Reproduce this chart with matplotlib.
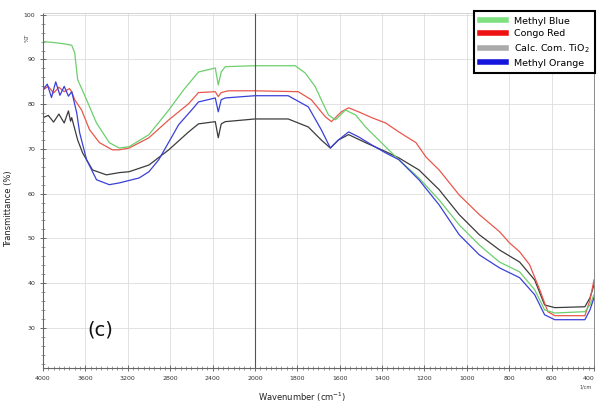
import numpy as np
import matplotlib
matplotlib.use("Agg")
import matplotlib.pyplot as plt
import matplotlib.ticker as ticker
from matplotlib.lines import Line2D

# FTIR spectra (wavenumber cm-1, %T)
methyl_blue_wn = [4000, 3900, 3800, 3729, 3701, 3673, 3589, 3495, 3374, 3280, 3187, 3000,
                  2813, 2673, 2533, 2374, 2346, 2318, 2280, 2000, 1810, 1763, 1715, 1687,
                  1653, 1620, 1573, 1525, 1478, 1416, 1369, 1321, 1226, 1131, 1036, 941,
                  846, 751, 680, 633, 585, 443, 419, 400]
methyl_blue_t = [94.0, 93.8, 93.5, 93.2, 91.5, 85.5, 81.0, 75.8, 71.4, 70.2, 70.5, 73.2,
                 78.7, 83.2, 87.2, 88.1, 84.3, 87.2, 88.4, 88.6, 88.6, 87.0, 83.9, 81.0,
                 77.6, 76.5, 78.7, 77.6, 74.9, 72.0, 69.8, 67.6, 63.5, 58.6, 53.0, 48.5,
                 44.7, 42.5, 38.5, 34.0, 33.3, 33.6, 35.1, 37.4]

congo_red_wn = [4000, 3950, 3900, 3850, 3800, 3750, 3729, 3701, 3636, 3561, 3467, 3346,
                3280, 3187, 3000, 2813, 2626, 2533, 2374, 2346, 2318, 2252, 2000, 1796,
                1734, 1668, 1639, 1592, 1558, 1511, 1449, 1383, 1321, 1240, 1193, 1131,
                1036, 941, 846, 799, 751, 704, 656, 618, 585, 443, 419, 400]
congo_red_t = [83.2, 84.0, 82.5, 83.8, 82.8, 83.5, 82.8, 81.0, 78.7, 74.3, 71.4, 69.8,
               69.8, 70.2, 72.5, 76.5, 80.1, 82.6, 82.8, 81.7, 82.6, 83.0, 83.0, 82.8,
               81.0, 77.2, 76.1, 78.3, 79.2, 78.3, 77.0, 75.8, 73.8, 71.4, 68.2, 65.3,
               59.7, 55.3, 51.5, 49.0, 47.0, 44.1, 38.5, 33.6, 32.7, 32.7, 36.2, 40.7]

tio2_wn = [4000, 3950, 3900, 3850, 3800, 3760, 3740, 3729, 3673, 3626, 3533, 3402, 3280,
           3187, 3000, 2813, 2626, 2533, 2374, 2346, 2318, 2280, 2000, 1843, 1748, 1687,
           1644, 1606, 1558, 1478, 1383, 1321, 1226, 1131, 1036, 941, 846, 751, 680, 633,
           585, 443, 419, 400]
tio2_t = [77.0, 77.5, 76.0, 77.8, 75.8, 78.5, 76.2, 77.0, 72.0, 69.1, 65.3, 64.2, 64.7,
          64.9, 66.4, 69.8, 73.8, 75.6, 76.1, 72.5, 75.6, 76.1, 76.7, 76.7, 74.9, 72.0,
          70.2, 72.0, 73.2, 71.4, 69.4, 68.0, 65.3, 60.9, 55.3, 50.8, 47.4, 44.7, 40.7,
          35.1, 34.5, 34.7, 36.7, 39.6]

methyl_orange_wn = [4000, 3960, 3920, 3880, 3840, 3800, 3760, 3729, 3682, 3654, 3589, 3495,
                    3374, 3280, 3093, 3000, 2907, 2720, 2579, 2533, 2374, 2346, 2318, 2280,
                    2000, 1843, 1748, 1687, 1644, 1606, 1558, 1511, 1449, 1383, 1321, 1226,
                    1131, 1036, 941, 846, 751, 680, 633, 585, 443, 419, 400]
methyl_orange_t = [83.2, 84.5, 81.5, 85.0, 82.0, 84.0, 81.8, 82.8, 78.1, 73.6, 67.6, 63.1,
                   62.0, 62.4, 63.5, 64.9, 67.6, 75.4, 79.2, 80.5, 81.4, 78.3, 81.0, 81.4,
                   81.9, 81.9, 79.4, 74.3, 70.2, 72.0, 73.8, 72.7, 70.9, 69.1, 67.6, 63.1,
                   57.5, 50.8, 46.3, 43.4, 41.2, 37.4, 32.9, 31.8, 31.8, 34.0, 36.7]

x_major = [4000, 3600, 3200, 2800, 2400, 2000, 1800, 1600, 1400, 1200, 1000, 800, 600, 400]
y_major = [30, 40, 50, 60, 70, 80, 90, 100]


# half scale above 2000 cm-1 (scale change like the instrument software)
def forward(w):
    w = np.asarray(w, dtype=float)
    return np.where(w > 2000, 2000 + (w - 2000) / 2.0, w)


def inverse(u):
    u = np.asarray(u, dtype=float)
    return np.where(u > 2000, 2000 + 2.0 * (u - 2000), u)


fig = plt.figure(figsize=(5.97, 4.03), dpi=100)
ax = fig.add_axes((43 / 597, 1 - 368 / 403, (594 - 43) / 597, (368 - 13) / 403))
ax.set_xscale("function", functions=(forward, inverse))

ax.plot(tio2_wn, tio2_t, color="#3c3c3c", lw=0.9)
ax.plot(congo_red_wn, congo_red_t, color="#e8574c", lw=0.9)
ax.plot(methyl_blue_wn, methyl_blue_t, color="#6ccf6c", lw=0.9)
ax.plot(methyl_orange_wn, methyl_orange_t, color="#3a40d8", lw=0.9)

ax.set_xlim(4000, 400)
ax.set_ylim(21.0, 100.4)

ax.xaxis.set_major_locator(ticker.FixedLocator(x_major))
minor_x = list(np.arange(3950, 2000, -50)) + list(np.arange(1975, 400, -25))
ax.xaxis.set_minor_locator(ticker.FixedLocator(minor_x))
ax.yaxis.set_major_locator(ticker.FixedLocator(y_major))
ax.yaxis.set_minor_locator(ticker.MultipleLocator(2))
ax.xaxis.set_major_formatter(ticker.StrMethodFormatter("{x:.0f}"))

ax.tick_params(which="major", direction="inout", length=5, width=0.6, colors="#555555",
               labelsize=4.5, labelcolor="#333333", pad=3)
ax.tick_params(which="minor", direction="inout", length=2.5, width=0.5, colors="#777777")

ax.grid(True, which="major", color="#dddddd", lw=0.6)
ax.set_axisbelow(True)
ax.axvline(2000, color="#555555", lw=0.8)

for side in ["top", "right"]:
    ax.spines[side].set_color("#cccccc")
    ax.spines[side].set_linewidth(0.6)
ax.spines["right"].set_color("#777777")
for side in ["left", "bottom"]:
    ax.spines[side].set_color("#666666")
    ax.spines[side].set_linewidth(0.8)

ax.set_xlabel("Wavenumber (cm$^{-1}$)", fontsize=6, color="#222222")
ax.xaxis.set_label_coords(0.47, -0.063)
ax.set_ylabel("Transmittance (%)", fontsize=6, color="#222222")
ax.yaxis.set_label_coords(-0.055, 0.45)

# last tick label sits at the figure edge
fig.canvas.draw()
ax.get_xticklabels()[-1].set_horizontalalignment("right")

fig.text(27 / 597, 1 - 38 / 403, "%T", fontsize=4, color="#444444", rotation=90,
         ha="center", va="center")
fig.text(586 / 597, 1 - 387 / 403, "1/cm", fontsize=3.5, color="#444444",
         ha="center", va="center")
fig.text(100 / 597, 1 - 330 / 403, "(c)", fontsize=14, color="#111111",
         ha="center", va="center")

handles = [Line2D([0], [0], color="#7ee07e", lw=4),
           Line2D([0], [0], color="#ee1111", lw=4),
           Line2D([0], [0], color="#aaaaaa", lw=4),
           Line2D([0], [0], color="#1414dc", lw=4)]
labels = ["Methyl Blue", "Congo Red", "Calc. Com. TiO$_2$", "Methyl Orange"]
leg = fig.legend(handles, labels, loc="upper left", bbox_to_anchor=(474 / 597, 1 - 11 / 403),
                 fontsize=6.8, frameon=True, fancybox=False, framealpha=1,
                 edgecolor="black", handlelength=2.8, handletextpad=0.8,
                 labelspacing=0.4, borderpad=0.6, borderaxespad=0)
leg.get_frame().set_linewidth(1.5)

fig.savefig("out.png", dpi=100)
